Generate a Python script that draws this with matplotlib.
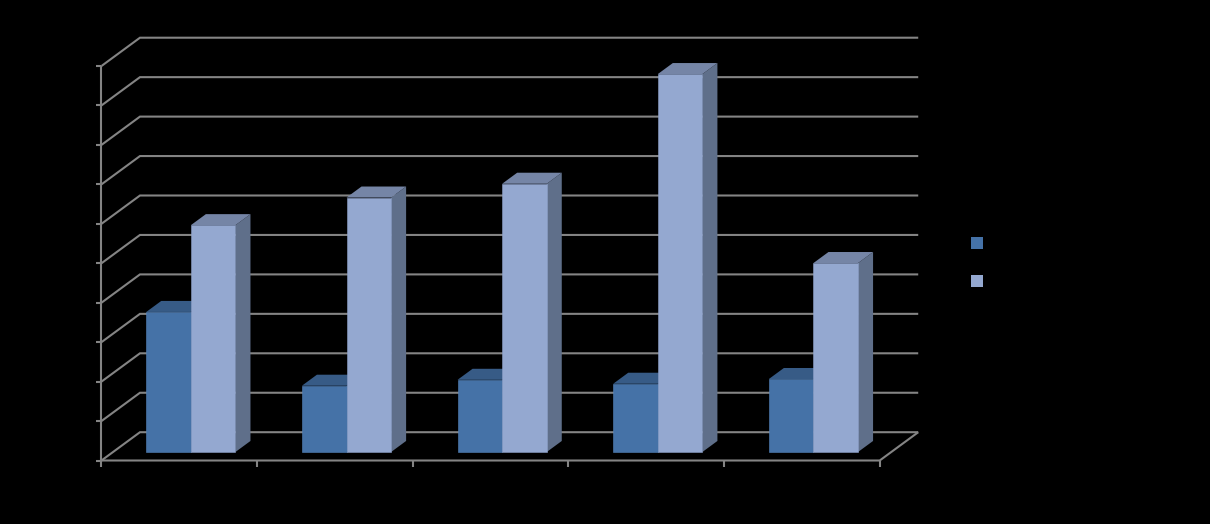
import matplotlib
matplotlib.use("Agg")
import matplotlib.pyplot as plt
from matplotlib.patches import Polygon, Rectangle

# Data (value axis 0-10, labels black on black in the source)
categories = [0, 1, 2, 3, 4]
series_a = [3.55, 1.68, 1.83, 1.73, 1.85]
series_b = [5.75, 6.45, 6.80, 9.58, 4.79]
value_ticks = list(range(0, 11))

W, H = 1210, 524
PX_CAT = 155.65          # pixels per category
PX_VAL = 39.45           # pixels per value unit
X0_PX, Y0_PX = 179.3, 460.5   # pixel of category 0 / value 0 on the front plane
DEPTH_X, DEPTH_Y = 38.5 / PX_CAT, 28.3 / PX_VAL  # full-depth offset in data units
BAR_W = 44.6 / PX_CAT
D_FRONT, D_BACK = 0.30, 0.69

GRID = "#848484"
A_FRONT, A_TOP, A_EDGE = "#4572A7", "#375B86", "#5482B8"
B_FRONT, B_TOP, B_SIDE, B_EDGE = "#94A8D0", "#7585A6", "#5F6F8A", "#8B9FC7"
A_SIDE = "#324F74"

fig = plt.figure(figsize=(W / 100, H / 100), dpi=100, facecolor="black")
ax = fig.add_axes([0, 0, 1, 1], facecolor="black")
ax.set_xlim(-X0_PX / PX_CAT, (W - X0_PX) / PX_CAT)
ax.set_ylim((Y0_PX - H) / PX_VAL, Y0_PX / PX_VAL)
ax.axis("off")


def pr(x, v, d=0.0):
    return (x + d * DEPTH_X, v + d * DEPTH_Y)


left, right = -0.5, len(categories) - 0.5
lw = 1.5
line = dict(color=GRID, lw=lw, solid_capstyle="butt", solid_joinstyle="miter", zorder=1)

for v in value_ticks:
    xs, ys = zip(pr(left - 5.5 / PX_CAT, v), pr(left, v), pr(left, v, 1), pr(right, v, 1))
    ax.plot(xs[1:], ys[1:], **line)
    ax.plot(xs[:2], ys[:2], **line)

ax.plot([left, left], [0, value_ticks[-1]], **line)
xs, ys = zip(pr(left, 0), pr(right, 0), pr(right, 0, 1))
ax.plot(xs, ys, **line)
for i in range(len(categories) + 1):
    ax.plot([left + i, left + i], [0, -6 / PX_VAL], **line)


def bar3d(xc, value, front, top, side, edge, z):
    l, r = xc - BAR_W, xc
    ax.add_patch(Polygon([pr(r, 0, D_FRONT), pr(r, 0, D_BACK), pr(r, value, D_BACK), pr(r, value, D_FRONT)],
                         closed=True, fc=side, ec="none", zorder=z))
    ax.add_patch(Polygon([pr(l, value, D_FRONT), pr(r, value, D_FRONT), pr(r, value, D_BACK), pr(l, value, D_BACK)],
                         closed=True, fc=top, ec="none", zorder=z))
    x0, y0 = pr(l, 0, D_FRONT)
    ax.add_patch(Rectangle((x0, y0), BAR_W, value, fc=front, ec=edge, lw=0.4, zorder=z + 0.1))


for c, a, b in zip(categories, series_a, series_b):
    bar3d(c, a, A_FRONT, A_TOP, A_SIDE, A_EDGE, 2 + c)
    bar3d(c + BAR_W, b, B_FRONT, B_TOP, B_SIDE, B_EDGE, 2.5 + c)

# Legend markers (legend text is black on black in the source)
for colour, py in zip([A_FRONT, B_FRONT], [243, 281]):
    x = (977 - X0_PX) / PX_CAT
    y = (Y0_PX - py) / PX_VAL
    ax.add_patch(Rectangle((x - 6 / PX_CAT, y - 6 / PX_VAL), 12 / PX_CAT, 12 / PX_VAL, fc=colour, ec="none"))

fig.savefig("out.png", dpi=100, facecolor="black")
